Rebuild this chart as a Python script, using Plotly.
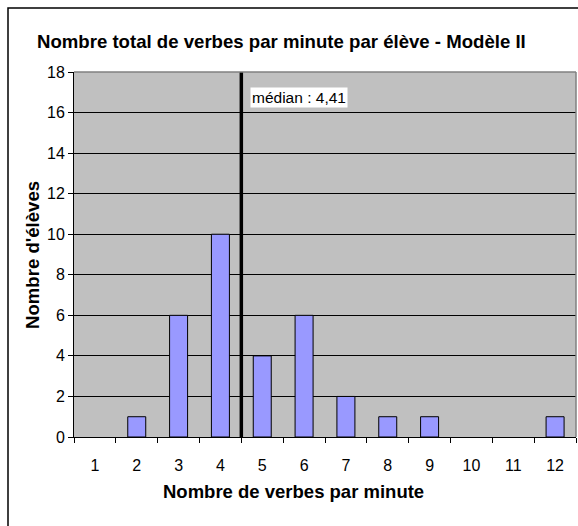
import plotly.graph_objects as go

categories = [1, 2, 3, 4, 5, 6, 7, 8, 9, 10, 11, 12]
counts = [0, 1, 6, 10, 4, 6, 2, 1, 1, 0, 0, 1]
y_ticks = [0, 2, 4, 6, 8, 10, 12, 14, 16, 18]
median_label = "médian : 4,41"
median_pos = 4.5

W, H = 578, 526
L, R, T, B = 74, 2, 72, 89
pw, ph = W - L - R, H - T - B

def px_x(p):
    return (p - L) / pw

def px_y(p):
    return (H - B - p) / ph

font = "Liberation Sans, Arial, sans-serif"

fig = go.Figure()
fig.add_trace(go.Bar(
    x=categories, y=[c if c > 0 else None for c in counts], width=0.43,
    marker=dict(color="#9999FF", line=dict(color="black", width=1)),
    hoverinfo="x+y",
))

fig.update_layout(
    width=W, height=H,
    margin=dict(l=L, r=R, t=T, b=B),
    paper_bgcolor="white",
    plot_bgcolor="#C0C0C0",
    showlegend=False,
    font=dict(family=font, size=12, color="black"),
    xaxis=dict(
        range=[0.5, 12.5], tickvals=categories, ticktext=[str(c) for c in categories],
        ticks="", showgrid=False, zeroline=False,
        showline=True, linecolor="black", linewidth=1,
        tickfont=dict(size=16),
        minor=dict(ticks="outside", tick0=0.5, dtick=1, ticklen=5, tickcolor="black", showgrid=False),
        ticklabelstandoff=14,
    ),
    yaxis=dict(
        range=[0, 18], tickvals=y_ticks, ticks="outside", ticklen=5, tickcolor="black",
        showgrid=True, gridcolor="black", gridwidth=1, zeroline=False,
        showline=True, linecolor="black", linewidth=1,
        tickfont=dict(size=16),
    ),
)

# median line
fig.add_shape(type="line", xref="x", yref="paper", x0=median_pos, x1=median_pos, y0=0, y1=1,
              line=dict(color="black", width=3.5))
# top/right plot border (gray)
fig.add_shape(type="line", xref="paper", yref="paper", x0=0, x1=1, y0=1, y1=1,
              line=dict(color="#808080", width=1.5))
fig.add_shape(type="line", xref="paper", yref="paper", x0=1, x1=1, y0=0, y1=1,
              line=dict(color="#808080", width=1.5))
# outer chart frame
fig.add_shape(type="rect", xref="paper", yref="paper",
              x0=px_x(8), x1=px_x(640), y0=px_y(600), y1=px_y(8),
              line=dict(color="black", width=1.5), fillcolor="rgba(0,0,0,0)", layer="above")

fig.add_annotation(text=median_label, xref="paper", yref="paper",
                   x=px_x(250), y=px_y(97.5), xanchor="left", yanchor="middle",
                   showarrow=False, bgcolor="white", font=dict(size=15.5), borderpad=1)

fig.add_annotation(text="<b>Nombre total de verbes par minute par élève - Modèle II</b>",
                   xref="paper", yref="paper", x=px_x(35), y=px_y(42),
                   xanchor="left", yanchor="middle", showarrow=False, font=dict(size=18.6))
fig.add_annotation(text="<b>Nombre de verbes par minute</b>",
                   xref="paper", yref="paper", x=px_x(293), y=px_y(491),
                   xanchor="center", yanchor="middle", showarrow=False, font=dict(size=18.5))
fig.add_annotation(text="<b>Nombre d'élèves</b>", textangle=-90,
                   xref="paper", yref="paper", x=px_x(32), y=px_y(255),
                   xanchor="center", yanchor="middle", showarrow=False, font=dict(size=18.6))

fig.write_html("out.html", config={"displayModeBar": False},
               post_script="document.body.style.margin='0';")
